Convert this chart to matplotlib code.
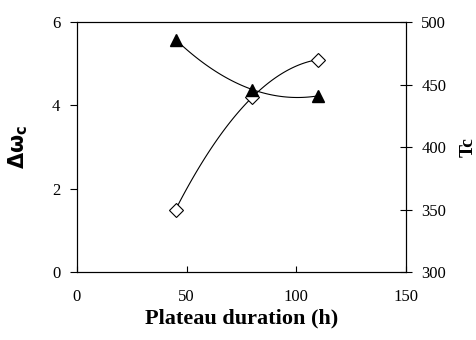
import numpy as np
import matplotlib
matplotlib.use("Agg")
import matplotlib.pyplot as plt

plt.rcParams['font.family'] = ['Liberation Serif', 'DejaVu Serif']

duration = [45, 80, 110]
delta_omega = [1.5, 4.2, 5.1]
tc = [486, 446, 441]

def trend(x, y, n=100):
    # second-order polynomial trendline (as in the original spreadsheet chart)
    c = np.polyfit(x, y, 2)
    xs = np.linspace(min(x), max(x), n)
    return xs, np.polyval(c, xs)

fig = plt.figure(figsize=(4.77, 3.4), dpi=100)
ax = fig.add_axes([0.1614, 0.2, 0.6896, 0.735])
ax2 = ax.twinx()

sx, sy = trend(duration, delta_omega)
ax.plot(sx, sy, color='black', lw=0.8)
ax.plot(duration, delta_omega, ls='none', marker='D', ms=7, mfc='white', mec='black', mew=0.8)

tx, ty = trend(duration, tc)
ax2.plot(tx, ty, color='black', lw=0.8)
ax2.plot(duration, tc, ls='none', marker='^', ms=9, color='black')

ax.set_xlim(0, 150)
ax.set_ylim(0, 6)
ax2.set_ylim(300, 500)
ax.set_xticks([0, 50, 100, 150])
ax.set_yticks([0, 2, 4, 6])
ax2.set_yticks([300, 350, 400, 450, 500])

ax.tick_params(axis='x', direction='in', length=4, labelsize=12, pad=12)
ax.tick_params(axis='y', direction='out', length=5, labelsize=12, pad=7)
ax2.tick_params(axis='y', direction='inout', length=8, labelsize=12, pad=7)

for a in (ax, ax2):
    for s in a.spines.values():
        s.set_linewidth(0.8)

ax.set_xlabel('Plateau duration (h)', fontsize=16, fontweight='bold', labelpad=3)
ax.set_ylabel(r'$\mathbf{\Delta\omega_c}$', fontsize=15, labelpad=16)
fig.text(468/477, 1-147/340, 'Tc', fontsize=14, fontweight='bold', rotation=90,
         ha='center', va='center')

fig.savefig('out.png', dpi=100)
